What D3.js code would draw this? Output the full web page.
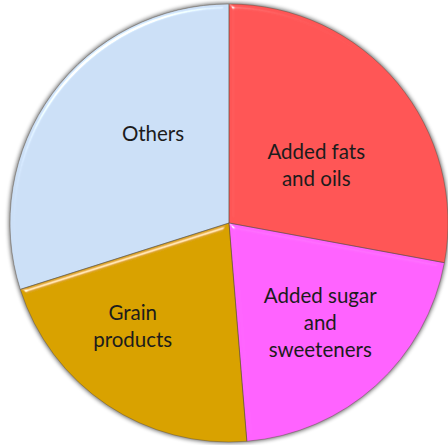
<!DOCTYPE html>
<html><head><meta charset="utf-8">
<script src="https://cdn.jsdelivr.net/npm/d3@7"></script>
<style>html,body{margin:0;padding:0;background:#fff;overflow:hidden}</style>
</head><body>
<script>
const categories = ["Added fats and oils", "Added sugar and sweeteners", "Grain products", "Others"];
const values = [27.9, 20.8, 21.4, 29.9];
const labelLines = [["Added fats", "and oils"], ["Added sugar", "and", "sweeteners"], ["Grain", "products"], ["Others"]];
const colors = ["#FF5656", "#FF63FF", "#D9A200", "#CCE0F7"];

const W = 448, H = 445, cx = 229, cy = 223, R = 219;
const labelNudge = [[-7, 21], [9, 9], [-28, 2], [23, -17]];

const svg = d3.select("body").append("svg").attr("width", W).attr("height", H);
const defs = svg.append("defs");
const f = defs.append("filter").attr("id", "bevel").attr("x", "-10%").attr("y", "-10%").attr("width", "120%").attr("height", "120%");
f.append("feGaussianBlur").attr("in", "SourceAlpha").attr("stdDeviation", 2.5).attr("result", "blur");
f.append("feSpecularLighting").attr("in", "blur").attr("surfaceScale", 3).attr("specularConstant", 0.8)
  .attr("specularExponent", 70).attr("lighting-color", "#ffffff").attr("result", "spec")
  .append("feDistantLight").attr("azimuth", 235).attr("elevation", 40);
f.append("feComposite").attr("in", "spec").attr("in2", "SourceAlpha").attr("operator", "in").attr("result", "specIn");
f.append("feComposite").attr("in", "SourceGraphic").attr("in2", "specIn").attr("operator", "arithmetic")
  .attr("k1", 0).attr("k2", 1).attr("k3", 1).attr("k4", 0);

const sh = defs.append("filter").attr("id", "shadow").attr("x", "-5%").attr("y", "-5%").attr("width", "110%").attr("height", "110%");
sh.append("feGaussianBlur").attr("in", "SourceAlpha").attr("stdDeviation", 2);

const pie = d3.pie().value(d => d).sort(null);
const arcs = pie(values);
const arc = d3.arc().innerRadius(0).outerRadius(R);
const g = svg.append("g").attr("transform", `translate(${cx},${cy})`);

g.append("circle").attr("r", R + 1).attr("fill", "#9a9a9a").attr("opacity", 0.6).attr("filter", "url(#shadow)");

g.selectAll("path.slice").data(arcs).enter().append("path")
  .attr("class", "slice")
  .attr("d", arc)
  .attr("fill", (d, i) => colors[i])
  .attr("filter", "url(#bevel)");

g.selectAll("path.edge").data(arcs).enter().append("path")
  .attr("class", "edge")
  .attr("d", arc)
  .attr("fill", "none")
  .attr("stroke", "#5a4a3a").attr("stroke-opacity", 0.4).attr("stroke-width", 1);

const labelArc = d3.arc().innerRadius(R * 0.56).outerRadius(R * 0.56);
const lh = 27;
arcs.forEach((d, i) => {
  const [x, y] = labelArc.centroid(d);
  const lines = labelLines[i];
  const t = g.append("text")
    .attr("text-anchor", "middle")
    .attr("font-family", "Lato, 'Open Sans', sans-serif")
    .attr("font-size", 20.5)
    .attr("fill", "#1c1c1c");
  lines.forEach((ln, k) => {
    t.append("tspan").attr("x", x + labelNudge[i][0])
      .attr("y", y + labelNudge[i][1] + (k - (lines.length - 1) / 2) * lh + 7)
      .text(ln);
  });
});
</script>
</body></html>
